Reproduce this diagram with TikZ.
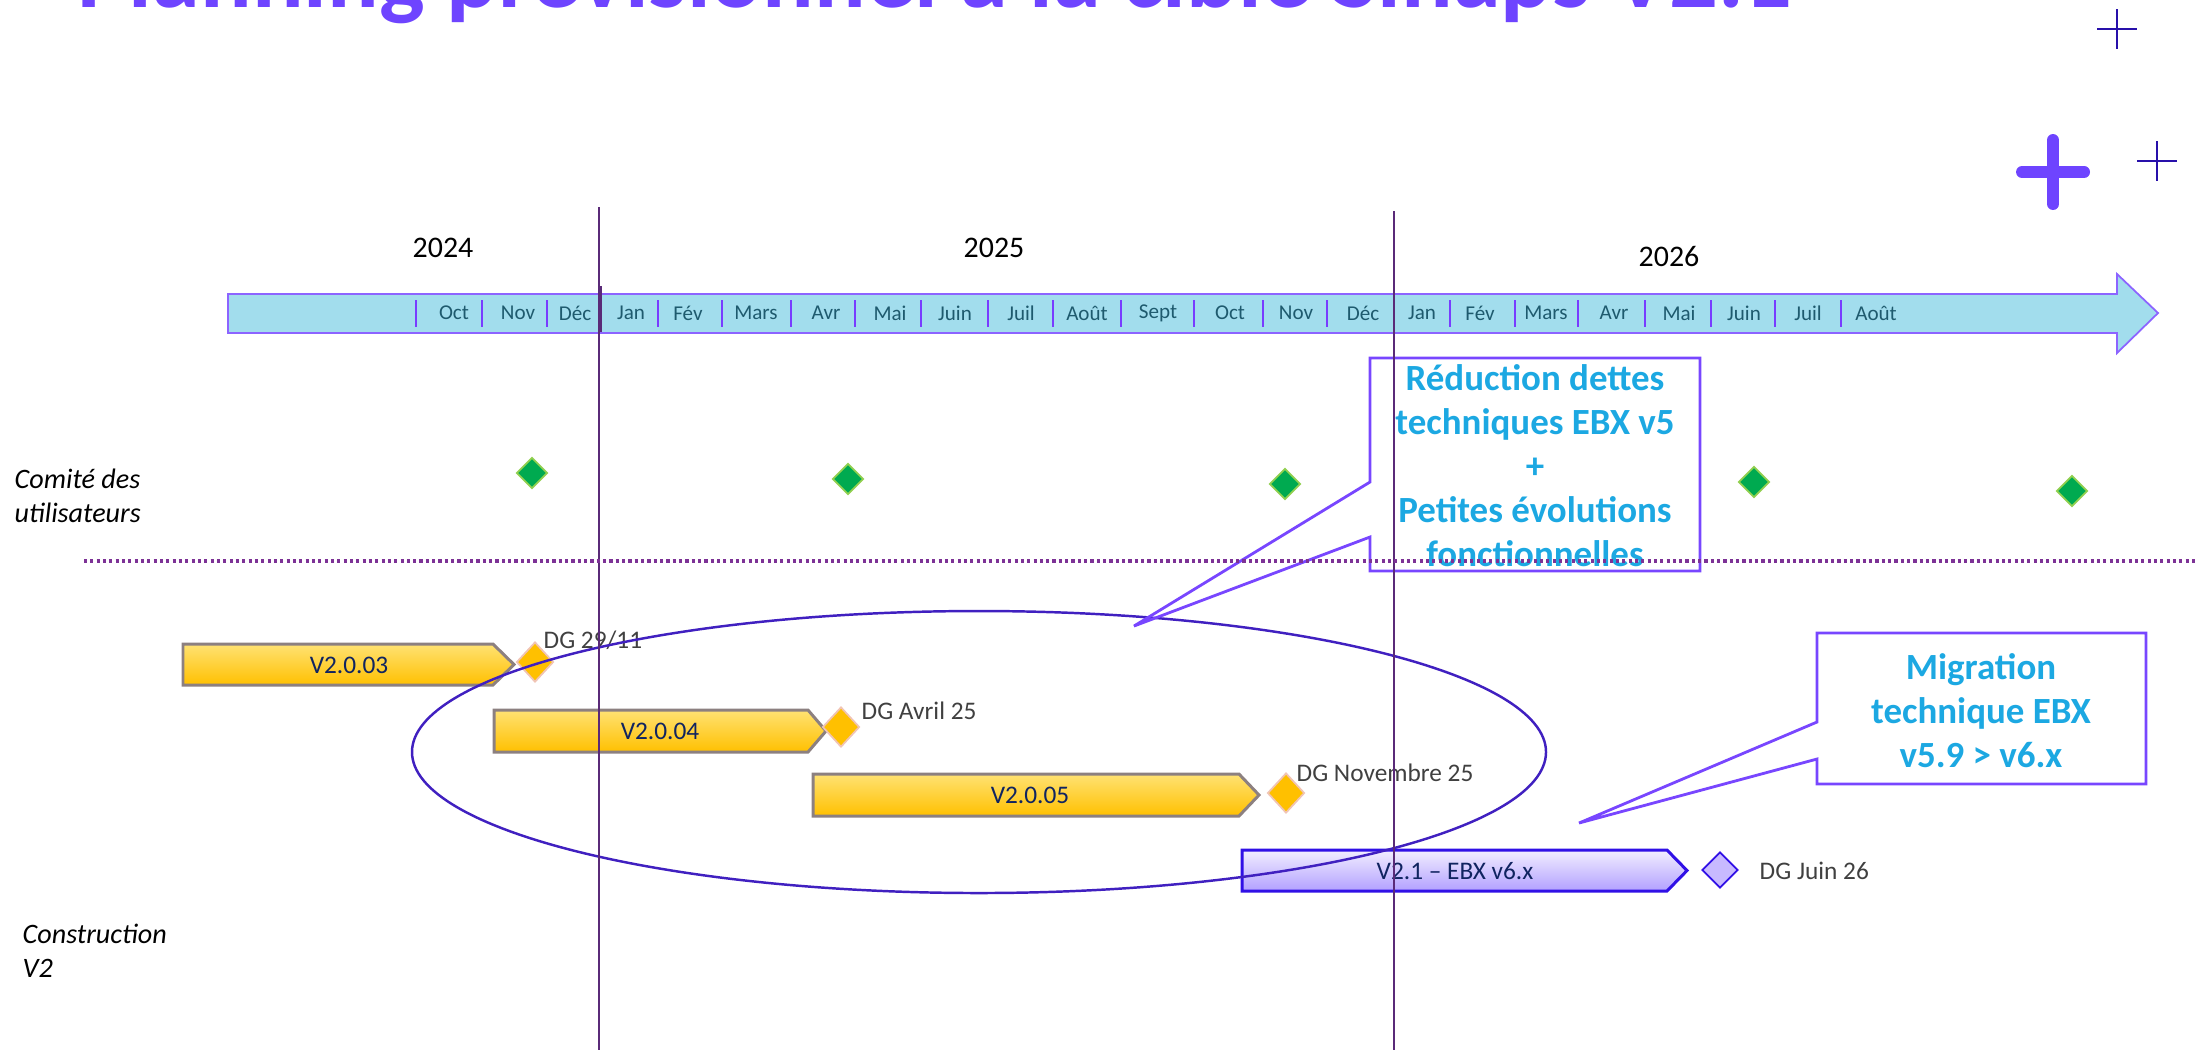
\documentclass[tikz,border=0pt]{standalone}
\usepackage{fontspec}
\setmainfont{Carlito}
\usepackage{tikz}
\usetikzlibrary{calc,positioning,shapes.geometric}

\definecolor{titreviolet}{RGB}{110,68,255}
\definecolor{croixbleu}{RGB}{40,16,170}
\definecolor{flechefond}{RGB}{162,221,237}
\definecolor{flechebord}{RGB}{140,100,255}
\definecolor{trait}{RGB}{120,60,255}
\definecolor{moisteal}{RGB}{30,90,110}
\definecolor{ligneannee}{RGB}{90,42,120}
\definecolor{pointille}{RGB}{125,50,150}
\definecolor{vertfonce}{RGB}{0,170,80}
\definecolor{vertclair}{RGB}{146,208,80}
\definecolor{jaunelight}{RGB}{255,226,115}
\definecolor{jaunedark}{RGB}{255,192,0}
\definecolor{grisbord}{RGB}{140,128,128}
\definecolor{roseclair}{RGB}{240,196,180}
\definecolor{marine}{RGB}{16,36,96}
\definecolor{grisdg}{RGB}{64,64,64}
\definecolor{violetbord}{RGB}{48,16,230}
\definecolor{lavclair}{RGB}{242,238,255}
\definecolor{lavfonce}{RGB}{178,160,255}
\definecolor{lavdiam}{RGB}{200,186,255}
\definecolor{ellipsebord}{RGB}{64,32,192}
\definecolor{bullebord}{RGB}{120,70,255}
\definecolor{bleutxt}{RGB}{28,168,226}

\begin{document}
\begin{tikzpicture}[x=0.01cm,y=-0.01cm,
    mois/.style={text=moisteal,font=\fontsize{6}{7}\selectfont,inner sep=0},
    annee/.style={font=\fontsize{8.5}{10}\selectfont,inner sep=0},
    rubrique/.style={font=\itshape\fontsize{8}{9.7}\selectfont,align=left,inner sep=0,anchor=west},
    comite/.style={diamond,draw=vertclair,fill=vertfonce,line width=0.5pt,minimum width=0.31cm,minimum height=0.31cm,inner sep=0},
    barre/.style={draw=grisbord,line width=0.85pt,top color=jaunelight,bottom color=jaunedark},
    jalon/.style={diamond,draw=roseclair,fill=jaunedark,line width=0.5pt,minimum width=0.37cm,minimum height=0.40cm,inner sep=0},
    nomv/.style={text=marine,font=\fontsize{7.2}{8.5}\selectfont,inner sep=0},
    dg/.style={text=grisdg,font=\fontsize{7.2}{8.5}\selectfont,inner sep=0,anchor=base west},
    bulle/.style={draw=bullebord,line width=0.8pt},
    bulletxt/.style={text=bleutxt,font=\bfseries\fontsize{10.5}{12.5}\selectfont,align=center,inner sep=0}]
  \useasboundingbox (0,0) rectangle (2195,1050);
  \clip (0,0) rectangle (2195,1050);

  % titre coupe en haut
  \node[anchor=base west,text=titreviolet,font=\bfseries\fontsize{27.4}{30}\selectfont,inner sep=0] (titre) at (77,7) {Planning prévisionnel à la cible Sinaps V2.1};
  \draw[croixbleu,line width=0.77pt] (2097,29) -- (2137,29) (2117,9) -- (2117,49);
  \draw[croixbleu,line width=0.77pt] (2137,161) -- (2177,161) (2157,141) -- (2157,181);
  \draw[titreviolet,line width=3.4pt,line cap=round] (2022,172) -- (2084,172) (2053,140) -- (2053,204);

  % frise des mois
  \draw[draw=flechebord,fill=flechefond,line width=0.5pt] (228,294) -- (2117,294) -- (2117,274) -- (2158,313) -- (2117,353) -- (2117,333) -- (228,333) -- cycle;
  \foreach \x in {416,482,547,658,722,791,855,921,988,1053,1121,1194,1263,1327,1450,1515,1578,1645,1711,1775,1841}
    \draw[trait,line width=0.6pt] (\x,300) -- (\x,327);
  \draw[ligneannee,line width=1.3pt] (600,286) -- (600,332);
  \foreach \x/\m [count=\i] in {454/Oct,518/Nov,575/Déc,631/Jan,688/Fév,756/Mars,826/Avr,890/Mai,955/Juin,1021/Juil,1087/Août,1158/Sept,1230/Oct,1296/Nov,1363/Déc,1422/Jan,1480/Fév,1546/Mars,1614/Avr,1679/Mai,1744/Juin,1808/Juil,1876/Août}
    \node[mois] (mois\i) at (\x,313) {\m};
  \node[annee] (a2024) at (443,248) {2024};
  \node[annee] (a2025) at (994,248) {2025};
  \node[annee] (a2026) at (1669,256) {2026};

  % comite des utilisateurs
  \node[rubrique] (rcomite) at (14,496) {Comité des\\utilisateurs};
  \foreach \x/\y [count=\i] in {532/473,848/479,1285/484,1754/482,2072/491}
    \node[comite] (c\i) at (\x,\y) {};

  % construction V2
  \node[rubrique] (rconstr) at (22,951) {Construction\\V2};
  \draw[barre] (183,644) -- (493,644) -- (514,664.5) -- (493,685) -- (183,685) -- cycle;
  \node[nomv] (v203) at (349,665) {V2.0.03};
  \node[jalon] (dg1) at (535,662) {};
  \node[dg] (dg1txt) at (543,648) {DG 29/11};
  \draw[barre] (494,710) -- (808,710) -- (826,731) -- (808,752) -- (494,752) -- cycle;
  \node[nomv] (v204) at (660,731) {V2.0.04};
  \node[jalon] (dg2) at (841,727) {};
  \node[dg] (dg2txt) at (861,719) {DG Avril 25};
  \draw[barre] (813,774) -- (1239,774) -- (1259,795) -- (1239,816) -- (813,816) -- cycle;
  \node[nomv] (v205) at (1030,795) {V2.0.05};
  \node[jalon] (dg3) at (1286,793) {};
  \node[dg] (dg3txt) at (1296,781) {DG Novembre 25};
  \draw[barre,draw=violetbord,top color=lavclair,bottom color=lavfonce] (1242,850) -- (1667,850) -- (1687,870.5) -- (1667,891) -- (1242,891) -- cycle;
  \node[nomv] (v21) at (1455,871) {V2.1 – EBX v6.x};
  \node[jalon,draw=violetbord,fill=lavdiam,minimum width=0.36cm,minimum height=0.36cm] (dg4) at (1720,870) {};
  \node[dg] (dg4txt) at (1759,879) {DG Juin 26};

  \draw[ellipsebord,line width=0.7pt] (979,752) ellipse [x radius=567, y radius=141];

  % bulles
  \coordinate (reducpointe) at (1134,626);
  \draw[bulle] (1370,358) -- (1700,358) -- (1700,571) -- (1370,571) -- (1370,537) -- (reducpointe) -- (1370,482) -- cycle;
  \node[bulletxt] (reduc) at (1535,466) {Réduction dettes\\techniques EBX v5\\+\\Petites évolutions\\fonctionnelles};
  \coordinate (migrpointe) at (1579,823);
  \draw[bulle] (1817,633) -- (2146,633) -- (2146,784) -- (1817,784) -- (1817,759) -- (migrpointe) -- (1817,722) -- cycle;
  \node[bulletxt] (migr) at (1981,711) {Migration\\technique EBX\\v5.9 > v6.x};

  \draw[ligneannee,line width=0.4pt] (599,207) -- (599,1050);
  \draw[ligneannee,line width=0.4pt] (1394,211) -- (1394,1050);
  \draw[pointille,line width=0.9pt,dash pattern=on 0.9pt off 0.9pt] (84,561) -- (2195,561);
\end{tikzpicture}
\end{document}
